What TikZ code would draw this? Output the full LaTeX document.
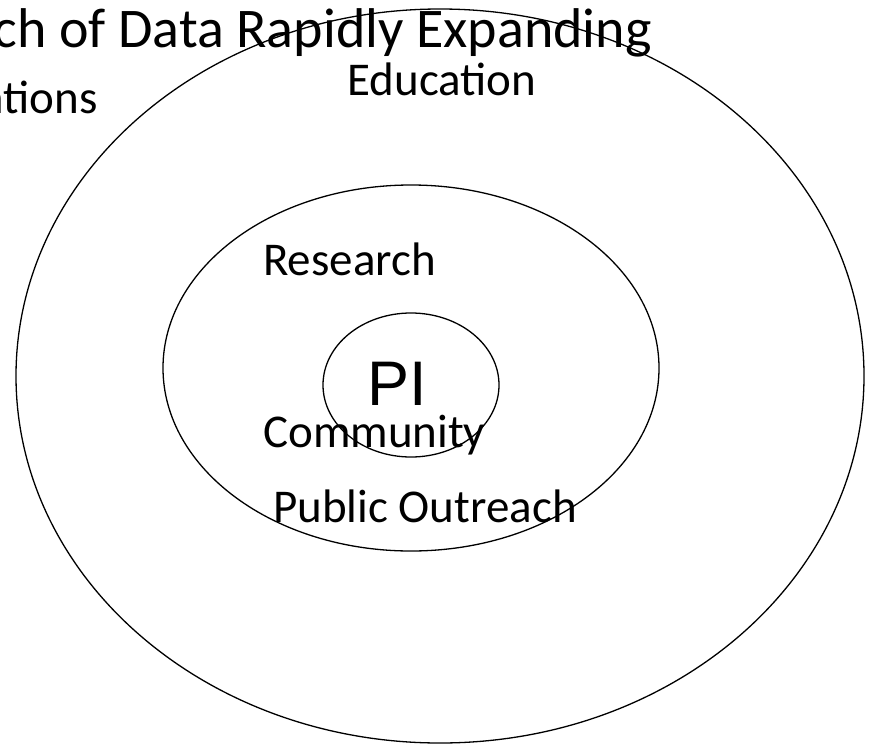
\documentclass[tikz,border=0pt]{standalone}
\usepackage{fontspec}
\setmainfont{Carlito}
\newfontfamily\pifont{Liberation Sans}
\usepackage{tikz}

\begin{document}
\begin{tikzpicture}[x=1pt,y=-1pt,
  ring/.style={draw,line width=1.3pt},
  body/.style={inner sep=0pt,font=\fontsize{47}{56}\selectfont},
  title/.style={inner sep=0pt,font=\fontsize{56}{67}\selectfont}]
\useasboundingbox (0,0) rectangle (872,744);
\begin{scope}
\clip (0,0) rectangle (872,744);
% rings
\draw[ring] (440,376) ellipse [x radius=424, y radius=367];
\draw[ring] (411,368) ellipse [x radius=248, y radius=183];
\draw[ring] (411,385) ellipse [x radius=88, y radius=72];
% slide text behind the rings
\node[title,anchor=base east] (head) at (652,47) {Approach of Data Rapidly Expanding};
\node[body,anchor=base east] (sub) at (98,113) {Applications};
\end{scope}
\node[body,anchor=base] (edu) at (442,95) {Education};
\node[body,anchor=base west] (res) at (263,275) {Research};
\node[anchor=base,inner sep=0pt,font=\pifont\fontsize{63}{70}\selectfont] (pi) at (397,405) {PI};
\node[body,anchor=base west] (com) at (263,447) {Community};
\node[body,anchor=base west] (pub) at (273,522) {Public Outreach};
\end{tikzpicture}
\end{document}
